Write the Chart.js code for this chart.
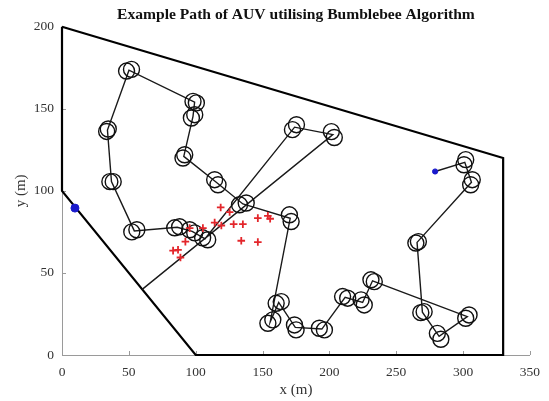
<!DOCTYPE html>
<html>
<head>
<meta charset="utf-8">
<script src="https://cdn.jsdelivr.net/npm/chart.js@4.4.0/dist/chart.umd.min.js"></script>
<style>
  html, body { margin: 0; padding: 0; background: #fff; }
  #wrap { width: 549px; height: 401px; }
</style>
</head>
<body>
<div id="wrap"><canvas id="auvChart"></canvas></div>
<script>
// survey area boundary (m)
const boundaryX = [0, 330, 330, 100, 0, 0];
const boundaryY = [200, 120, 0, 0, 100, 200];

// AUV path waypoints, in travel order
const pathX = [60, 202.6, 174, 107, 97.4, 86.2, 54.1, 37, 34, 50.1, 99.2, 98, 91.1, 115.4, 135.3, 170.7,
  155.8, 162.1, 174.5, 194.4, 211.8, 224.9, 232.3, 303.2, 282.1, 269.6, 265.6, 306.3, 301.3, 279.1];
const pathY = [40, 134.3, 138.8, 70.8, 75.3, 77.8, 75.6, 105.6, 137, 173.5, 154, 145.4, 121, 105.2, 92, 83.3,
  20.3, 32, 16.8, 15.8, 35.1, 32, 45.2, 23.4, 11.4, 26.1, 68.6, 105.2, 117.4, 111.8];

// loiter circles at each waypoint
const circleX = [201.5, 203.7, 175.4, 172.4, 105.2, 109, 99.3, 95.5, 84.3, 88, 52.2, 56, 35.8, 38.3,
  33.4, 34.6, 48.3, 52, 98, 100.5, 99.3, 96.8, 91.8, 90.5, 114.2, 116.7, 132.8, 137.8, 170.1, 171.4,
  154, 157.7, 160.2, 164, 173.9, 175.1, 192.5, 196.3, 209.9, 213.7, 223.7, 226.1, 233.6, 231.1,
  302, 304.5, 280.8, 283.4, 268.4, 270.9, 264.7, 266.6, 306.9, 305.7, 302, 300.7];
const circleY = [136.1, 132.5, 140.3, 137.3, 71.4, 70.2, 74.4, 76.3, 77.5, 78.1, 75, 76.3, 105.6, 105.6,
  136.2, 137.7, 173, 174, 154.5, 153.6, 146.4, 144.4, 122, 120, 106.8, 103.7, 91.5, 92.6, 85.4, 81.3,
  19.3, 21.4, 31.5, 32.5, 18.3, 15.3, 16.3, 15.3, 35.6, 34.6, 33.6, 30.5, 44.7, 45.8,
  22.4, 24.4, 13.2, 9.6, 25.8, 26.4, 68.2, 69.1, 106.8, 103.7, 119, 115.9];

// detected targets
const targetX = [118.7, 125.4, 114.2, 119.2, 128.4, 135.3, 146.5, 154, 155.7, 134.1, 146.5, 105.4, 95.5, 92.3, 83.1, 86.8, 88.6];
const targetY = [89.9, 87.1, 80.7, 78.9, 79.7, 79.7, 83.4, 84.8, 83, 69.6, 68.8, 77.3, 77.3, 69.1, 63.6, 64.1, 59.4];

// deployment / end positions
const markX = [9.7, 279.1];
const markY = [89.5, 111.8];

const xTicks = [0, 50, 100, 150, 200, 250, 300, 350];
const yTicks = [0, 50, 100, 150, 200];

const toPoints = (xs, ys) => xs.map((x, i) => ({ x: x, y: ys[i] }));

const serif = "'Liberation Serif', 'Times New Roman', serif";

// MATLAB style ticks pointing into the plot
const innerTicks = {
  id: 'innerTicks',
  beforeDatasetsDraw(chart) {
    const { ctx, chartArea, scales } = chart;
    ctx.save();
    ctx.strokeStyle = '#9a9a9a';
    ctx.lineWidth = 1;
    xTicks.forEach(v => {
      const px = Math.round(scales.x.getPixelForValue(v)) + 0.5;
      ctx.beginPath();
      ctx.moveTo(px, chartArea.bottom);
      ctx.lineTo(px, chartArea.bottom - 4);
      ctx.stroke();
    });
    yTicks.forEach(v => {
      const py = Math.round(scales.y.getPixelForValue(v)) + 0.5;
      ctx.beginPath();
      ctx.moveTo(chartArea.left, py);
      ctx.lineTo(chartArea.left + 4, py);
      ctx.stroke();
    });
    ctx.restore();
  }
};

new Chart(document.getElementById('auvChart').getContext('2d'), {
  type: 'scatter',
  data: {
    datasets: [
      {
        label: 'Start',
        data: toPoints(markX, markY),
        pointStyle: 'circle',
        pointRadius: [4, 2.6],
        backgroundColor: '#1a1acc',
        borderColor: '#1a1acc',
        borderWidth: 1
      },
      {
        label: 'Targets',
        data: toPoints(targetX, targetY),
        pointStyle: 'cross',
        pointRadius: 3.8,
        borderColor: '#e3262b',
        borderWidth: 1.8
      },
      {
        label: 'Loiter',
        data: toPoints(circleX, circleY),
        pointStyle: 'circle',
        pointRadius: 8,
        backgroundColor: 'rgba(0,0,0,0)',
        borderColor: '#111',
        borderWidth: 1.4
      },
      {
        label: 'Path',
        data: toPoints(pathX, pathY),
        showLine: true,
        pointRadius: 0,
        borderColor: '#1a1a1a',
        borderWidth: 1.4
      },
      {
        label: 'Boundary',
        data: toPoints(boundaryX, boundaryY),
        showLine: true,
        pointRadius: 0,
        borderColor: '#000',
        borderWidth: 2.2,
        clip: false
      }
    ]
  },
  options: {
    responsive: true,
    maintainAspectRatio: false,
    animation: false,
    events: [],
    layout: { padding: { right: 18, top: 0, left: 0, bottom: 0 } },
    plugins: {
      legend: { display: false },
      tooltip: { enabled: false },
      title: {
        display: true,
        text: 'Example Path of AUV utilising Bumblebee Algorithm',
        fullSize: false,
        color: '#111',
        font: { family: serif, size: 15.6, weight: 'bold' },
        padding: { top: 6, bottom: 2 }
      }
    },
    scales: {
      x: {
        type: 'linear',
        min: 0,
        max: 350,
        afterBuildTicks: s => { s.ticks = xTicks.map(v => ({ value: v })); },
        afterFit: s => { s.height = 46; },
        grid: { display: false, drawTicks: false },
        border: { display: true, color: '#9a9a9a', width: 1 },
        ticks: { color: '#333', font: { family: serif, size: 13.5 }, padding: 9, maxRotation: 0 },
        title: {
          display: true,
          text: 'x (m)',
          color: '#333',
          font: { family: serif, size: 15 },
          padding: { top: 0, bottom: 2 }
        }
      },
      y: {
        type: 'linear',
        min: 0,
        max: 200,
        afterBuildTicks: s => { s.ticks = yTicks.map(v => ({ value: v })); },
        afterFit: s => { s.width = 62; },
        grid: { display: false, drawTicks: false },
        border: { display: true, color: '#9a9a9a', width: 1 },
        ticks: { color: '#333', font: { family: serif, size: 13.5 }, padding: 8 },
        title: {
          display: true,
          text: 'y (m)',
          color: '#333',
          font: { family: serif, size: 15 },
          padding: { top: 12, bottom: 0 }
        }
      }
    }
  },
  plugins: [innerTicks]
});
</script>
</body>
</html>
